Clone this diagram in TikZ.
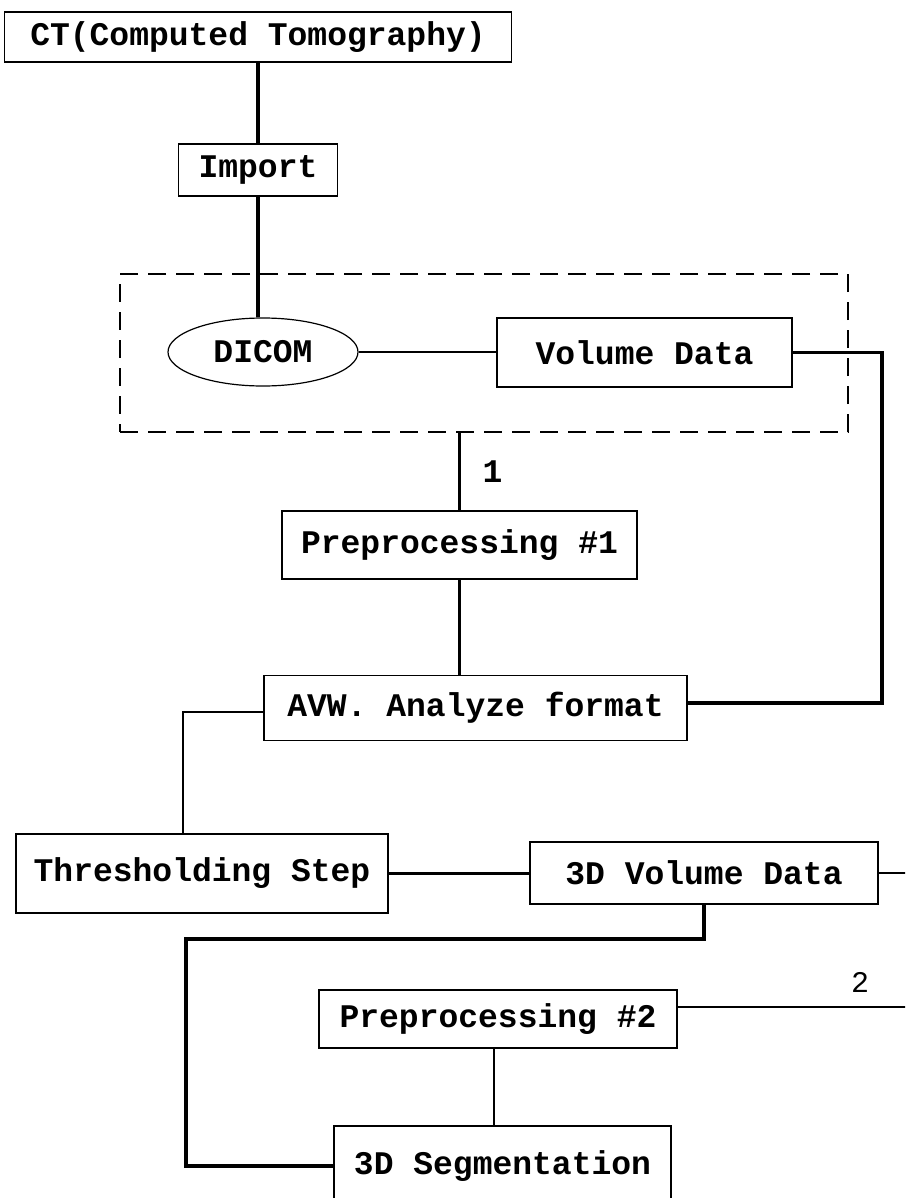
\documentclass[tikz,border=0pt]{standalone}
\usepackage{fontspec}
\setmainfont{Liberation Mono}
\usetikzlibrary{shapes.geometric,positioning}
\tikzset{
  box/.style={draw, line width=1.6pt, rectangle, inner sep=0pt,
    font=\fontsize{33}{38}\selectfont\bfseries},
  oval/.style={draw, line width=1.2pt, ellipse, inner sep=0pt,
    font=\fontsize{33}{38}\selectfont\bfseries},
  link/.style={line width=3.4pt},
  thinlink/.style={line width=2.4pt},
  group/.style={draw, dash pattern=on 18pt off 10pt, line width=1.6pt, rectangle, inner sep=0pt}
}
\begin{document}
\begin{tikzpicture}[x=1pt,y=-1pt]
			% Frame of the picture
			\useasboundingbox (0,0) rectangle (905,1198);
			\clip (0,0) rectangle (905,1198);
			% Draw the boxes
			\node[box, minimum width=507, minimum height=50] (ct) at (258,37) {CT(Computed Tomography)};
			\node[box, minimum width=159, minimum height=52] (imp) at (258,170) {Import};
			\node[group, minimum width=728, minimum height=158] (grp) at (484,353) {};
			\node[oval, minimum width=190, minimum height=68] (dicom) at (263,352) {DICOM};
			\node[box, minimum width=295, minimum height=69] (vd) at (644.5,352.5) {Volume Data};
			\node[box, minimum width=355, minimum height=68] (pre1) at (459.5,545) {Preprocessing \#1};
			\node[box, minimum width=423, minimum height=65] (avw) at (475.5,708) {AVW. Analyze format};
			\node[box, minimum width=372, minimum height=79] (thr) at (202,873.5) {Thresholding Step};
			\node[box, minimum width=348, minimum height=62] (vol) at (704,873) {3D Volume Data};
			\node[box, minimum width=358, minimum height=58] (pre2) at (498,1019) {Preprocessing \#2};
			\node[box, minimum width=337, minimum height=80] (seg) at (502.5,1166) {3D Segmentation};
			% Bend points
			\coordinate (bend) at (186,939);
			% Draw the connectors
			\draw[link] (ct.south) -- (imp.north);
			\draw[link] (imp.south) -- (imp.south |- dicom.north);
			\draw[thinlink] (dicom.east) -- (dicom.east -| vd.west);
			\draw[link] (vd.east) -- ++(89,0) |- ([yshift=5pt]avw.east);
			\draw[link] (pre1.north |- grp.south) -- (pre1.north)
				node[pos=0.5, right=18pt, font=\fontsize{33}{38}\selectfont\bfseries] (one) {1};
			\draw[link] (pre1.south) -- (pre1.south |- avw.north);
			\draw[thinlink] ([yshift=-4pt]avw.west) -| ([xshift=-19pt]thr.north);
			\draw[thinlink] (thr.east) -- (thr.east -| vol.west);
			\draw[thinlink] (vol.east) -- ++(60,0);
			\draw[link] (vol.south) |- (bend) |- (seg.west);
			\draw[thinlink] ([yshift=12pt]pre2.east) -- ++(260,0);
			\node[font=\fontsize{30}{36}\selectfont] (two) at (860,982) {2};
			\draw[thinlink] ([xshift=-4pt]pre2.south) -- ([xshift=-8.5pt]seg.north);
		\end{tikzpicture}
\end{document}
